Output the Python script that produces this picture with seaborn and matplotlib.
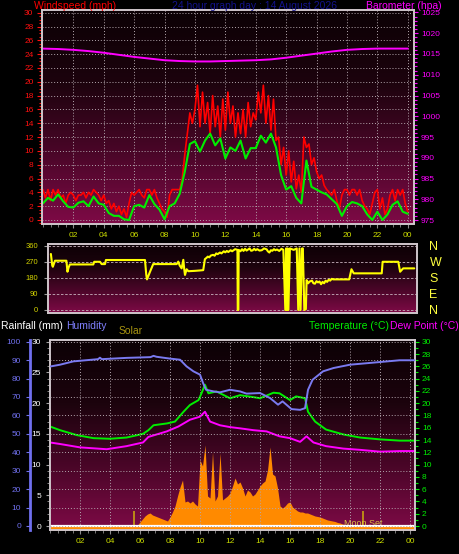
import numpy as np
import matplotlib
matplotlib.use("Agg")
import matplotlib.pyplot as plt
import seaborn as sns
from matplotlib.colors import LinearSegmentedColormap
from matplotlib.ticker import MultipleLocator, FixedLocator

# ==================================================
# DATA
# ==================================================

hour_ticks = [2, 4, 6, 8, 10, 12, 14, 16, 18, 20, 22, 24]
hour_labels = ["02", "04", "06", "08", "10", "12", "14", "16", "18", "20", "22", "00"]

# wind gust (mph), one value every 10 minutes from 00:00
gust_mph = [
    4.4, 3.2, 4.4, 2.8, 4.4, 3.6,
    4.4, 3.2, 3.6, 2.4, 3.6, 4.0,
    3.6, 2.8, 3.6, 3.6, 4.0, 3.2,
    4.0, 3.6, 4.4, 4.0, 3.6, 2.8,
    3.6, 2.4, 2.8, 1.6, 2.4, 1.2,
    2.0, 0.8, 1.6, 0.4, 2.4, 4.0,
    3.6, 4.0, 4.4, 3.6, 3.2, 4.4,
    4.4, 3.6, 4.4, 3.2, 2.4, 1.6,
    1.2, 0.4, 3.6, 4.4, 4.4, 4.4,
    4.4, 6.0, 9.5, 12.5, 15.5, 14.0,
    16.0, 19.5, 13.5, 18.5, 14.0, 17.0,
    12.5, 18.0, 13.5, 16.5, 12.0, 17.5,
    13.0, 18.5, 14.0, 16.5, 12.0, 15.5,
    12.5, 16.0, 12.0, 17.0, 13.5, 15.5,
    14.5, 18.5, 15.5, 19.5, 14.0, 18.0,
    13.0, 17.5, 11.5, 12.0, 8.0, 10.5,
    6.5, 10.0, 5.5, 8.5, 4.5, 6.5,
    4.0, 12.0, 10.5, 11.0, 8.0, 9.0,
    7.0, 6.0, 6.5, 5.0, 4.4, 4.0,
    3.6, 4.4, 2.8, 1.6, 3.6, 4.4,
    4.4, 3.6, 4.4, 4.4, 3.6, 4.4,
    2.8, 2.0, 1.6, 0.8, 2.4, 4.0,
    4.4, 1.6, 3.2, 0.8, 1.6, 3.6,
    4.4, 2.8, 4.4, 3.6, 4.4, 2.4,
    1.2,
]

# average wind (mph), one value every 20 minutes
wind_mph = [
    2.4, 3.2, 2.8, 3.7, 2.7, 1.9, 1.8, 2.5, 2.7, 2.0, 3.4, 2.4,
    2.2, 1.0, 0.6, 0.6, 0.1, 0.0, 2.0, 2.2, 1.8, 3.6, 2.3, 1.5,
    0.1, 2.0, 2.4, 3.8, 7.0, 11.0, 11.4, 9.9, 11.5, 12.5, 10.8, 11.8,
    8.9, 10.5, 10.0, 11.5, 8.9, 10.4, 10.4, 12.2, 11.2, 12.5, 10.5, 6.5,
    4.4, 4.9, 3.2, 2.4, 8.6, 4.8, 4.4, 4.0, 3.7, 3.0, 2.3, 0.6,
    2.0, 2.6, 2.4, 2.0, 0.8, 0.0, 1.2, 0.0, 0.8, 2.2, 2.7, 1.2,
    0.9,
]

# barometer (hPa), hourly
baro_hpa = [
    1016.3, 1016.2, 1016.0, 1015.7, 1015.3, 1014.8, 1014.3, 1013.9,
    1013.5, 1013.3, 1013.2, 1013.2, 1013.3, 1013.4, 1013.5, 1013.7,
    1014.1, 1014.6, 1015.1, 1015.6, 1016.0, 1016.2, 1016.3, 1016.3,
    1016.3,
]

# wind direction (degrees)
dir_hours = [
    0.53, 0.62, 0.66, 0.80, 1.55, 1.62, 1.70, 1.78, 3.32, 3.38, 3.76, 3.87,
    4.09, 4.15, 6.72, 6.80, 6.85, 7.05, 7.26, 8.80, 8.91, 9.00, 9.13, 9.24,
    9.30, 9.35, 9.46, 9.57, 10.0, 10.3, 10.55, 10.66, 10.75, 10.85, 10.95, 11.05,
    11.2, 11.3, 11.4, 11.5, 11.65, 11.75, 11.9, 12.0, 12.1, 12.2, 12.35, 12.45,
    12.53, 12.65, 12.80, 12.82, 12.86, 12.88, 13.0, 13.1, 13.2, 13.3, 13.4, 13.5,
    13.6, 13.7, 13.8, 13.9, 14.0, 14.1, 14.25, 14.4, 14.55, 14.72, 14.8, 14.9,
    15.0, 15.1, 15.2, 15.3, 15.4, 15.55, 15.7, 15.82, 15.95, 16.0, 16.05, 16.1,
    16.15, 16.25, 16.5, 16.7, 16.8, 16.88, 16.95, 17.05, 17.1, 17.2, 17.3, 17.35,
    17.45, 17.55, 17.7, 17.8, 17.9, 18.0, 18.1, 18.2, 18.3, 18.4, 18.5, 18.6,
    18.7, 18.8, 18.9, 19.0, 19.1, 20.15, 20.3, 20.45, 22.29, 22.35, 23.38, 23.5,
    23.7, 24.43,
]
dir_deg = [
    315, 250, 243, 277, 277, 215, 240, 256, 256, 271, 271, 258,
    258, 281, 281, 200, 172, 215, 258, 258, 272, 250, 234, 282,
    230, 197, 229, 218, 220, 222, 224, 286, 292, 300, 296, 306,
    310, 305, 318, 314, 323, 318, 330, 324, 332, 326, 336, 330,
    335, 342, 338, 0, 0, 338, 330, 342, 332, 344, 334, 340,
    346, 333, 335, 344, 336, 342, 334, 336, 346, 341, 330, 323,
    336, 333, 342, 336, 340, 332, 344, 338, 0, 346, 0, 346,
    0, 346, 338, 346, 0, 346, 0, 346, 346, 0, 5, 168,
    150, 160, 165, 150, 148, 162, 155, 160, 145, 158, 150, 165,
    158, 170, 165, 175, 172, 172, 229, 206, 206, 271, 271, 215,
    234, 234,
]
dir_ticks = [0, 90, 180, 270, 360]
compass_labels = ["N", "E", "S", "W", "N"]

# humidity (%)
hum_hours = [
    0.0, 0.67, 1.56, 3.2, 3.33, 3.45, 5.1, 6.7, 6.9, 7.1, 8.0, 8.67,
    9.1, 9.56, 10.0, 10.2, 10.4, 10.9, 11.33, 12.0, 12.67, 13.1, 14.0, 14.67,
    15.2, 15.5, 16.1, 16.67, 17.0, 17.2, 17.5, 18.2, 18.9, 20.0, 21.8, 23.3,
    24.33,
]
hum_pct = [
    86.5, 87.5, 89.3, 90.5, 91.3, 90.5, 91.2, 91.6, 92.3, 91.8, 90.8, 90.2,
    86.6, 83.9, 82.1, 77.6, 73.9, 73.0, 72.5, 73.9, 73.0, 71.8, 72.1, 69.4,
    65.8, 67.6, 63.4, 63.0, 63.9, 73.9, 79.3, 83.9, 85.7, 87.5, 88.8, 89.9,
    89.9,
]

# temperature (C)
temp_hours = [
    0.0, 0.67, 1.78, 2.9, 4.0, 5.1, 6.2, 6.56, 6.9, 7.8, 8.33, 8.9,
    9.33, 9.9, 10.1, 10.33, 10.56, 11.1, 12.0, 12.67, 13.5, 14.0, 14.9, 15.3,
    16.0, 16.4, 17.0, 17.2, 17.67, 18.4, 19.56, 20.67, 22.0, 23.3, 24.33,
]
temp_c = [
    16.2, 15.6, 14.8, 14.3, 14.2, 14.4, 15.0, 15.6, 16.4, 16.7, 17.0, 18.6,
    19.7, 20.5, 21.6, 23.0, 21.6, 21.9, 20.8, 21.3, 21.0, 20.8, 21.7, 21.6,
    20.5, 21.1, 20.8, 18.6, 17.0, 15.7, 14.9, 14.4, 14.1, 13.9, 13.9,
]

# dew point (C)
dew_hours = [
    0.0, 0.67, 2.0, 3.78, 5.1, 6.2, 6.56, 7.78, 8.56, 9.33, 10.0, 10.33,
    10.67, 11.33, 12.0, 12.67, 13.56, 14.44, 15.3, 16.0, 16.67, 17.1, 17.56, 18.4,
    19.56, 20.67, 22.0, 23.3, 24.33,
]
dew_c = [
    13.6, 13.35, 12.8, 12.5, 13.0, 13.6, 14.5, 15.4, 16.2, 17.3, 17.8, 18.6,
    17.0, 16.4, 16.1, 15.9, 15.6, 15.4, 14.6, 14.3, 13.7, 14.6, 13.6, 13.0,
    12.6, 12.4, 12.1, 12.2, 12.2,
]

# solar radiation (W/m2), one value every 10 minutes from 00:00
solar_wm2 = [
    0, 0, 0, 0, 0, 0,
    0, 0, 0, 0, 0, 0,
    0, 0, 0, 0, 0, 0,
    0, 0, 0, 0, 0, 0,
    0, 0, 0, 0, 0, 0,
    0, 0, 0, 0, 0, 10,
    40, 70, 100, 120, 130, 110,
    100, 90, 80, 70, 60, 50,
    90, 140, 200, 300, 390, 460,
    240, 250, 230, 250, 220, 200,
    660, 600, 810, 300, 280, 740,
    250, 300, 730, 260, 280, 300,
    330, 400, 480, 420, 440, 380,
    300, 360, 340, 300, 320, 360,
    400, 430, 450, 560, 790, 520,
    500, 380, 200, 180, 200, 230,
    240, 190, 170, 150, 140, 140,
    130, 130, 120, 110, 100, 95,
    90, 80, 70, 60, 55, 50,
    45, 35, 30, 20, 15, 10,
    5, 0, 0, 0, 0, 0,
    0, 0, 0, 0, 0, 0,
    0, 0, 0, 0, 0, 0,
    0, 0, 0, 0, 0, 0,
    0, 0, 0,
]

# rainfall (mm)
rain_hours = [0.0, 24.33]
rain_mm = [0.0, 0.0]

# sun / moon event markers
event_hours = [5.6, 20.85]
moon_set_hour = 20.85

gust_hours = np.arange(len(gust_mph)) / 6
wind_hours = np.arange(len(wind_mph)) / 3
baro_hours = np.arange(len(baro_hpa))
solar_hours = np.arange(len(solar_wm2)) / 6

# ==================================================
# STYLE
# ==================================================

sns.set_style("ticks")
plt.rcParams["font.family"] = ["Liberation Sans", "DejaVu Sans"]

bg_cmap = LinearSegmentedColormap.from_list(
    "bg", ["#7e0a46", "#4a0628", "#1c030d", "#0c0105"]
)

GRID = dict(color="#b3a6ad", linestyle=(0, (1, 2)), linewidth=0.7)
FRAME = "#cfc6cb"
XLAB = "#ccdd00"


def panel_rect(left, top, right, bottom):
    return [left / 460, 1 - bottom / 554, (right - left) / 460, (bottom - top) / 554]


def paint_background(ax):
    grad = np.linspace(0, 1, 256).reshape(-1, 1)
    ax.imshow(grad, cmap=bg_cmap, aspect="auto", extent=[0, 1, 0, 1],
              transform=ax.transAxes, origin="lower", zorder=0,
              interpolation="bicubic")


def frame(ax):
    for side in ["top", "bottom", "left", "right"]:
        ax.spines[side].set_color(FRAME)
        ax.spines[side].set_linewidth(1.2)


fig = plt.figure(figsize=(4.6, 5.54), dpi=100, facecolor="black")

# ==================================================
# WIND + BAROMETER
# ==================================================

ax_w = fig.add_axes(panel_rect(42, 10, 414, 224))
paint_background(ax_w)

sns.lineplot(x=gust_hours, y=gust_mph, ax=ax_w, color="#ff0000",
             linewidth=1.2, estimator=None, sort=False)
sns.lineplot(x=wind_hours, y=wind_mph, ax=ax_w, color="#00ee00",
             linewidth=1.5, estimator=None, sort=False)

ax_w.set_xlim(-0.06, 24.41)
ax_w.set_ylim(-0.58, 30.39)
ax_w.set_xlabel("")
ax_w.set_ylabel("")
ax_w.xaxis.set_major_locator(FixedLocator(hour_ticks))
ax_w.set_xticklabels(hour_labels)
ax_w.xaxis.set_minor_locator(MultipleLocator(0.5))
ax_w.yaxis.set_major_locator(MultipleLocator(2))
ax_w.yaxis.set_minor_locator(MultipleLocator(0.5))
ax_w.grid(which="major", **GRID)
ax_w.tick_params(axis="y", which="both", left=True, colors="#ff1010",
                 labelsize=6, length=3.6, width=0.8, pad=2.5)
ax_w.tick_params(axis="y", which="minor", length=2)
ax_w.tick_params(axis="x", which="both", bottom=True, color="#8c8c8c",
                 labelcolor=XLAB, labelsize=6, length=3, pad=3)
ax_w.tick_params(axis="x", which="minor", length=2)
frame(ax_w)

ax_p = ax_w.twinx()
sns.lineplot(x=baro_hours, y=baro_hpa, ax=ax_p, color="#ff00ff",
             linewidth=1.4, estimator=None, sort=False)
ax_p.set_ylim(974.04, 1025.6)
ax_p.set_ylabel("")
ax_p.yaxis.set_major_locator(MultipleLocator(5))
ax_p.yaxis.set_minor_locator(MultipleLocator(1))
ax_p.tick_params(axis="y", which="both", right=True, colors="#ff00ff",
                 labelsize=6, length=3, width=0.8, pad=2)
ax_p.tick_params(axis="y", which="minor", length=1.8)
frame(ax_p)

fig.text(34 / 460, 1 - 6 / 554, "Windspeed (mph)", color="#ff0000",
         fontsize=7.5, ha="left", va="center")
fig.text(255 / 460, 1 - 6 / 554, "24 hour graph day : 14 August 2026",
         color="#12128c", fontsize=7.5, ha="center", va="center")
fig.text(442 / 460, 1 - 6 / 554, "Barometer (hpa)", color="#ff00ff",
         fontsize=7.5, ha="right", va="center")

# ==================================================
# WIND DIRECTION
# ==================================================

ax_d = fig.add_axes(panel_rect(48, 244, 417, 313))
paint_background(ax_d)

sns.lineplot(x=dir_hours, y=dir_deg, ax=ax_d, color="#ffff00",
             linewidth=1.5, estimator=None, sort=False)

ax_d.set_xlim(0.34, 24.61)
ax_d.set_ylim(-17, 371)
ax_d.set_xlabel("")
ax_d.set_ylabel("")
ax_d.set_xticks([])
ax_d.set_yticks(dir_ticks)
ax_d.grid(axis="y", color="#c8b4be", linestyle=(0, (3, 2)), linewidth=0.6)
ax_d.tick_params(axis="y", left=True, color="#9a9a9a", labelcolor="#d4d400",
                 labelsize=5.5, length=3, pad=4)
frame(ax_d)

ax_dr = ax_d.twinx()
ax_dr.set_ylim(-17, 371)
ax_dr.set_yticks(dir_ticks)
ax_dr.set_yticklabels(compass_labels)
ax_dr.tick_params(axis="y", right=True, length=0, labelcolor="#ffff40",
                  labelsize=9, pad=9)
frame(ax_dr)

# ==================================================
# RAIN / HUMIDITY / SOLAR / TEMPERATURE / DEW POINT
# ==================================================

rect_b = panel_rect(50, 340, 415, 530)

ax_s = fig.add_axes(rect_b)
ax_s.set_zorder(0)
paint_background(ax_s)
ax_s.fill_between(solar_hours, solar_wm2, -40, color="#ff8a00",
                  linewidth=0, zorder=2)
ax_s.vlines(event_hours, 0, 150, color="#c8a010", linewidth=1.2, zorder=3)
ax_s.text(moon_set_hour + 0.05, 30, "Moon Set", color="#dcc040",
          fontsize=6.5, ha="center", va="center", zorder=4)
ax_s.set_xlim(0, 24.33)
ax_s.set_ylim(-40, 1860)
ax_s.set_xticks([])
ax_s.set_yticks([])
for side in ["top", "bottom", "left", "right"]:
    ax_s.spines[side].set_visible(False)

ax_b = fig.add_axes(rect_b)
ax_b.set_zorder(1)
ax_b.patch.set_visible(False)
sns.lineplot(x=rain_hours, y=rain_mm, ax=ax_b, color="#ffffff",
             linewidth=1.6, estimator=None, sort=False)
sns.lineplot(x=temp_hours, y=temp_c, ax=ax_b, color="#00ee00",
             linewidth=1.4, estimator=None, sort=False)
sns.lineplot(x=dew_hours, y=dew_c, ax=ax_b, color="#ff00ff",
             linewidth=1.4, estimator=None, sort=False)
ax_b.set_xlim(0, 24.33)
ax_b.set_ylim(-0.65, 30.28)
ax_b.set_xlabel("")
ax_b.set_ylabel("")
ax_b.xaxis.set_major_locator(FixedLocator(hour_ticks))
ax_b.set_xticklabels(hour_labels)
ax_b.xaxis.set_minor_locator(MultipleLocator(0.5))
ax_b.yaxis.set_major_locator(MultipleLocator(5))
ax_b.yaxis.set_minor_locator(MultipleLocator(1))
ax_b.grid(axis="x", which="major", **GRID)
ax_b.tick_params(axis="y", which="both", left=True, color="#a0a0a0",
                 labelcolor="#ffffff", labelsize=6, length=3, pad=3.5)
ax_b.tick_params(axis="y", which="minor", length=2)
ax_b.tick_params(axis="x", which="both", bottom=True, color="#8c8c8c",
                 labelcolor=XLAB, labelsize=6, length=3, pad=3)
ax_b.tick_params(axis="x", which="minor", length=2)
frame(ax_b)

ax_t = ax_b.twinx()
ax_t.set_zorder(2)
ax_t.set_ylim(-0.65, 30.28)
ax_t.yaxis.set_major_locator(MultipleLocator(2))
ax_t.yaxis.set_minor_locator(MultipleLocator(1))
ax_t.tick_params(axis="y", which="both", right=True, colors="#00ee00",
                 labelsize=6, length=3, width=0.8, pad=2)
ax_t.tick_params(axis="y", which="minor", length=1.8)
frame(ax_t)

ax_h = ax_b.twinx()
ax_h.set_zorder(3)
sns.lineplot(x=hum_hours, y=hum_pct, ax=ax_h, color="#7a7af0",
             linewidth=1.4, estimator=None, sort=False)
ax_h.set_ylim(-2.2, 100.9)
ax_h.set_ylabel("")
ax_h.yaxis.tick_left()
ax_h.yaxis.set_major_locator(MultipleLocator(10))
ax_h.grid(axis="y", **GRID)
ax_h.spines["left"].set_position(("outward", 14.4))
ax_h.spines["left"].set_color("#7070ee")
ax_h.spines["left"].set_linewidth(2)
for side in ["top", "bottom", "right"]:
    ax_h.spines[side].set_visible(False)
ax_h.tick_params(axis="y", left=True, right=False, colors="#7070ee",
                 labelsize=6, length=3, width=0.8, pad=3.5)

fig.text(1 / 460, 1 - 326 / 554, "Rainfall (mm)", color="#ffffff",
         fontsize=7.5, ha="left", va="center")
fig.text(66 / 460, 1 - 326 / 554, "Humidity", color="#8080ff",
         fontsize=7.5, ha="left", va="center")
fig.text(119 / 460, 1 - 331 / 554, "Solar", color="#a89410",
         fontsize=7.5, ha="left", va="center")
fig.text(309 / 460, 1 - 326 / 554, "Temperature (\u00b0C)", color="#00ee00",
         fontsize=7.5, ha="left", va="center")
fig.text(390 / 460, 1 - 326 / 554, "Dew Point (\u00b0C)", color="#ff00ff",
         fontsize=7.5, ha="left", va="center")

# ==================================================
# SAVE
# ==================================================

fig.savefig("out.png", dpi=100, facecolor="black")
